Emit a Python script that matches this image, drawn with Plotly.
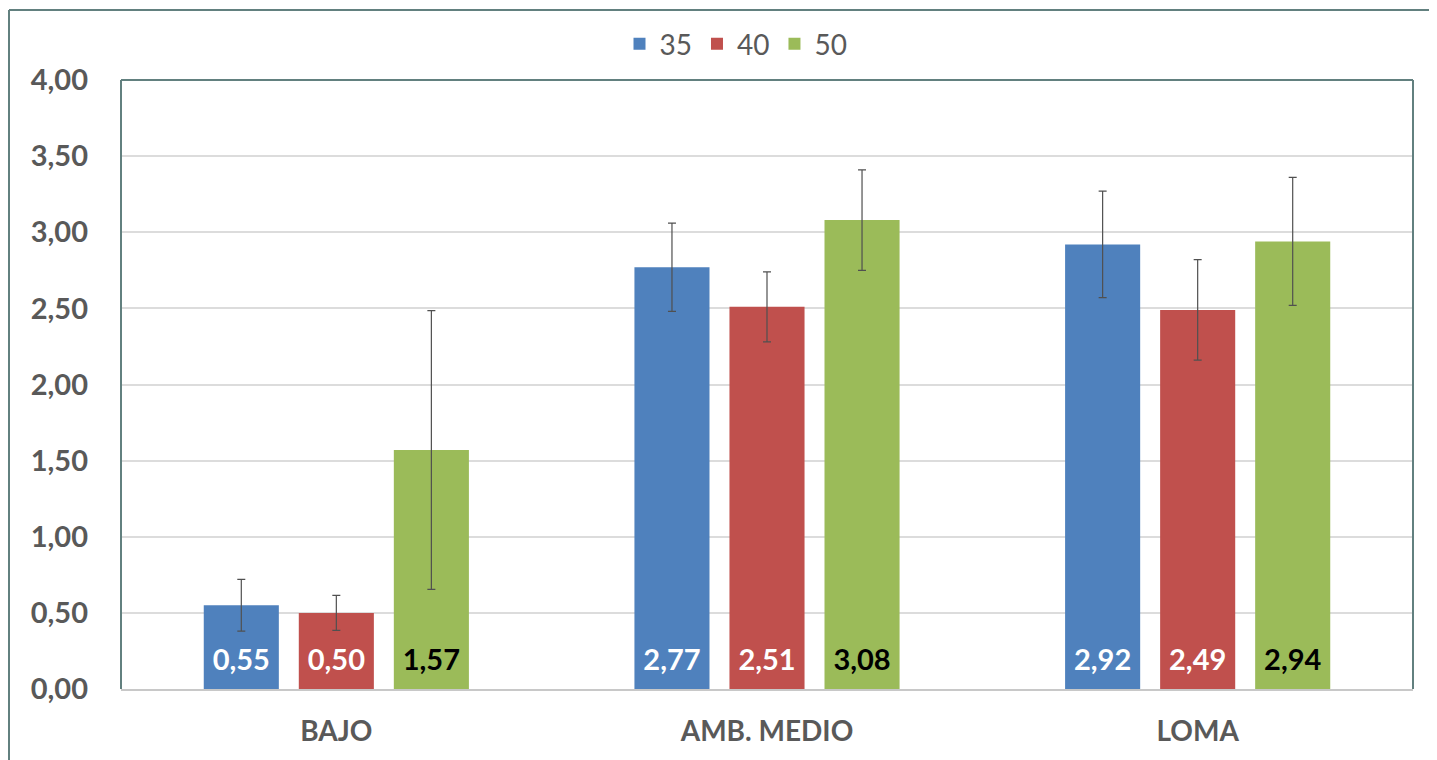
import plotly.graph_objects as go

categories = ["BAJO", "AMB. MEDIO", "LOMA"]
series_names = ["35", "40", "50"]
values_35 = [0.55, 2.77, 2.92]
values_40 = [0.50, 2.51, 2.49]
values_50 = [1.57, 3.08, 2.94]
err_35 = [0.17, 0.29, 0.35]
err_40 = [0.115, 0.23, 0.33]
err_50 = [0.915, 0.33, 0.42]
y_ticks = [0, 0.5, 1, 1.5, 2, 2.5, 3, 3.5, 4]

colors = ["#4F81BD", "#C0504D", "#9BBB59"]
text_colors = ["white", "white", "black"]
FONT = "Lato, 'Open Sans', sans-serif"
GRAY = "#595959"
BORDER = "#62807f"
BARGAP = 0.338

all_vals = [values_35, values_40, values_50]
all_errs = [err_35, err_40, err_50]

fig = go.Figure()
for name, vals, errs, col in zip(series_names, all_vals, all_errs, colors):
    fig.add_trace(go.Bar(
        name=name, x=categories, y=vals,
        marker=dict(color=col, line=dict(width=0)),
        error_y=dict(type="data", array=errs, visible=True, color="#505050", thickness=1.2, width=4),
        hovertemplate="%{x}: %{y:.2f}<extra>" + name + "</extra>",
    ))

# value labels sitting at the base of each bar (grouped like the bars)
for name, vals, tcol in zip(series_names, all_vals, text_colors):
    fig.add_trace(go.Scatter(
        x=categories, y=[0] * len(vals), customdata=vals, orientation="v",
        mode="markers+text", texttemplate="%{customdata:.2f}", textposition="top center",
        marker=dict(size=17, opacity=0), showlegend=False, hoverinfo="skip",
        textfont=dict(family=FONT, size=29, color=tcol, weight="bold"), cliponaxis=False,
    ))

W, H = 1429, 752
OFF = 8  # page body margin
ml, mr, mt = 121 - OFF, 1437 - 1413, 79 - OFF
mb = H - (689 - OFF)
pw, ph = W - ml - mr, H - mt - mb

def px2x(px):
    return (px - OFF - ml) / pw

def py2y(py):
    return (H - mb - (py - OFF)) / ph

shapes = [
    dict(type="line", xref="paper", yref="paper", x0=0, x1=0, y0=0, y1=1, line=dict(color=BORDER, width=2)),
    dict(type="line", xref="paper", yref="paper", x0=0, x1=1, y0=1, y1=1, line=dict(color=BORDER, width=2)),
    dict(type="line", xref="paper", yref="paper", x0=1, x1=1, y0=0, y1=1, line=dict(color=BORDER, width=2)),
    dict(type="line", xref="paper", yref="paper", x0=px2x(9), x1=px2x(9), y0=py2y(775), y1=py2y(9),
         line=dict(color=BORDER, width=2)),
    dict(type="line", xref="paper", yref="paper", x0=px2x(9), x1=px2x(1460), y0=py2y(9), y1=py2y(9),
         line=dict(color=BORDER, width=2)),
]

fig.update_layout(
    width=W, height=H,
    margin=dict(l=ml, r=mr, t=mt, b=mb, pad=0),
    paper_bgcolor="white", plot_bgcolor="white",
    separators=",.",
    barmode="group", bargap=BARGAP, bargroupgap=0.21,
    scattermode="group", scattergap=BARGAP,
    font=dict(family=FONT, color=GRAY),
    showlegend=True,
    legend=dict(orientation="h", x=px2x(736), y=py2y(44), xanchor="center", yanchor="middle",
                font=dict(family=FONT, size=28, color=GRAY), traceorder="normal"),
    xaxis=dict(showline=True, linecolor="#C8C8C8", linewidth=2, ticks="", showgrid=False,
               tickfont=dict(family=FONT, size=28, color=GRAY, weight="bold"), ticklabelstandoff=16),
    yaxis=dict(range=[0, 4], tickvals=y_ticks, tickformat=".2f", showgrid=True, gridcolor="#DCDCDC",
               gridwidth=1.5, zeroline=False, showline=False, ticks="",
               tickfont=dict(family=FONT, size=29, color=GRAY, weight="bold"), ticklabelstandoff=32),
    shapes=shapes,
)

fig.write_html("out.html")
